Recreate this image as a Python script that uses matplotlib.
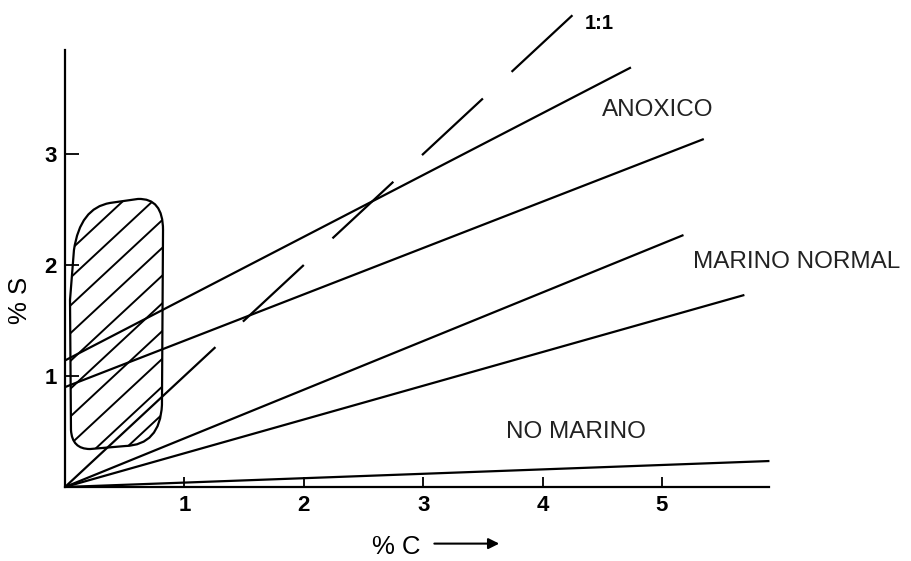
import numpy as np
import matplotlib
matplotlib.use("Agg")
import matplotlib.pyplot as plt
from matplotlib.path import Path
from matplotlib.patches import PathPatch

plt.rcParams['font.family'] = ['Liberation Sans', 'DejaVu Sans']

# --- data ---
# straight lines: start (x, y) -> end (x, y), in %C / %S units
line_x_start = [0.0, 0.0, 0.0, 0.0, 0.0]
line_y_start = [0.0, 0.0, 0.0, 0.90, 1.14]
line_x_end = [5.90, 5.69, 5.18, 5.35, 4.74]
line_y_end = [0.234, 1.73, 2.27, 3.135, 3.78]

# 1:1 reference line drawn as separate dashes (x ranges, y = x)
one_to_one_dashes = [(0.0, 1.26), (1.49, 2.00), (2.24, 2.75), (2.99, 3.50), (3.74, 4.25)]

# outline of the hatched field
field_x = [0.042, 0.050, 0.059, 0.209, 0.503, 0.796, 0.812, 0.821, 0.821, 0.611, 0.377, 0.126, 0.075, 0.042]
field_y = [1.685, 0.514, 0.342, 0.342, 0.369, 0.378, 0.739, 2.315, 2.604, 2.595, 2.559, 2.514, 2.135, 1.685]
field_codes = [Path.MOVETO, Path.LINETO, Path.CURVE3, Path.CURVE3, Path.LINETO,
               Path.CURVE3, Path.CURVE3, Path.LINETO, Path.CURVE3, Path.CURVE3,
               Path.LINETO, Path.CURVE3, Path.CURVE3, Path.CLOSEPOLY]

labels = ['1:1', 'ANOXICO', 'MARINO NORMAL', 'NO MARINO']
label_x = [4.355, 4.50, 5.26, 3.69]
label_y = [4.18, 3.40, 2.03, 0.50]

x_ticks = [1, 2, 3, 4, 5]
y_ticks = [1, 2, 3]

# --- figure ---
W, H = 911, 561
fig = plt.figure(figsize=(W / 100, H / 100), dpi=100)
x0, y0 = 65, 487          # pixel position of the origin
sx, sy = 119.4, 111.0     # pixels per unit
ax = fig.add_axes([x0 / W, (H - y0) / H, (W - x0) / W, y0 / H])
ax.set_xlim(0, (W - x0) / sx)
ax.set_ylim(0, y0 / sy)

lw = 1.6
for xs, ys, xe, ye in zip(line_x_start, line_y_start, line_x_end, line_y_end):
    ax.plot([xs, xe], [ys, ye], color='black', lw=lw, solid_capstyle='butt')

for a, b in one_to_one_dashes:
    ax.plot([a, b], [a, b], color='black', lw=lw, solid_capstyle='butt')

# hatched field
field = PathPatch(Path(np.column_stack([field_x, field_y]), field_codes),
                  facecolor='none', edgecolor='black', lw=lw)
ax.add_patch(field)
for c in np.arange(2.09, -0.5, -0.25):
    hl, = ax.plot([0, 1.2], [c, c + 1.2], color='black', lw=1.4)
    hl.set_clip_path(field)

# annotations
for txt, tx, ty in zip(labels, label_x, label_y):
    if txt == '1:1':
        ax.text(tx, ty, txt, fontsize=14.5, fontweight='bold', va='center', ha='left')
    else:
        ax.text(tx, ty, txt, fontsize=17.5, color='#222222', va='center', ha='left')

# axes styling
for s in ['top', 'right']:
    ax.spines[s].set_visible(False)
ax.spines['left'].set_bounds(0, 3.94)
ax.spines['bottom'].set_bounds(0, 5.90)
ax.spines['left'].set_linewidth(1.6)
ax.spines['bottom'].set_linewidth(1.6)

ax.set_xticks(x_ticks)
ax.set_yticks(y_ticks)
ax.tick_params(axis='x', direction='in', length=7, width=1.3, labelsize=16, pad=6)
ax.tick_params(axis='y', direction='in', length=10, width=1.3, labelsize=16, pad=6)
for t in ax.get_xticklabels() + ax.get_yticklabels():
    t.set_fontweight('bold')

ax.text(2.57, -0.54, '% C', fontsize=18.5, va='center', ha='left')
ax.annotate('', xy=(3.66, -0.51), xytext=(3.07, -0.51),
            arrowprops=dict(arrowstyle='-|>', lw=1.5, color='black', mutation_scale=16),
            annotation_clip=False)
ax.text(-0.377, 1.68, '% S', fontsize=18.5, rotation=90, va='center', ha='center')

fig.savefig('out.png', dpi=100)
